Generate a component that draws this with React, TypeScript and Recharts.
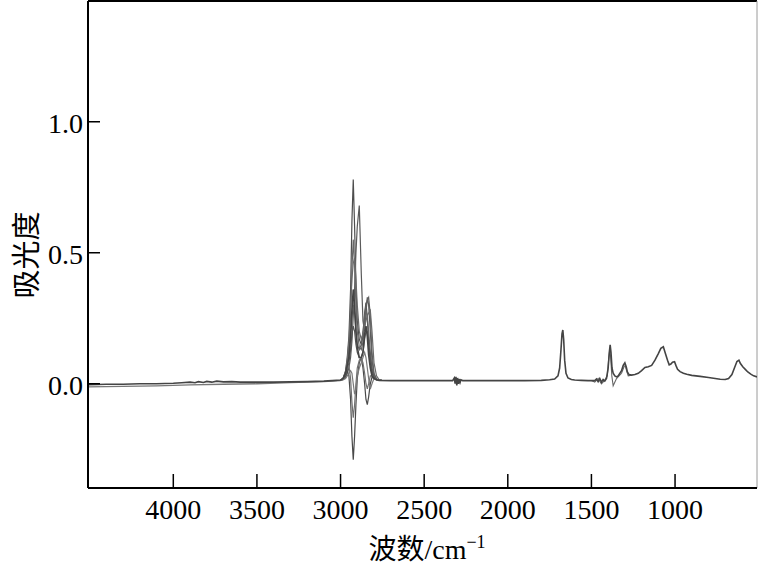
import React from 'react';
import { LineChart, Line, XAxis, YAxis, ReferenceLine } from 'recharts';

// full spectrum (wavenumber, absorbance)
const specWn = [
  4510, 4450, 4400, 4300, 4200, 4100, 4000, 3950, 3900, 3870, 3850, 3820, 3800, 3770, 3740, 3700,
  3650, 3600, 3500, 3400, 3300, 3200, 3100, 3050, 3000,
  2985, 2970, 2960, 2950, 2940, 2932, 2924, 2916, 2908, 2900, 2888, 2876, 2866, 2856, 2848, 2840,
  2832, 2822, 2812, 2800, 2785, 2770,
  2700, 2600, 2500, 2400, 2330, 2320, 2315, 2310, 2305, 2300, 2295, 2290, 2285, 2280, 2270, 2200,
  2100, 2000, 1900, 1800, 1750, 1720, 1700, 1690, 1682, 1676, 1671, 1666, 1660, 1652, 1640, 1620,
  1600, 1560, 1520, 1480, 1470, 1460, 1450, 1440, 1430, 1420, 1410, 1400, 1393, 1388, 1383, 1377,
  1370, 1360, 1350, 1340, 1320, 1310, 1300, 1292, 1285, 1275, 1260, 1240, 1220, 1200, 1180, 1160,
  1140, 1120, 1100, 1085, 1070, 1060, 1045, 1035, 1025, 1015, 1003, 995, 985, 970, 950, 930, 900,
  850, 800, 760, 730, 700, 680, 660, 645, 630, 618, 610, 595, 580, 565, 545, 530, 510,
];
const specAbs = [
  -0.004, -0.003, -0.002, -0.002, 0.0, 0.0, 0.002, 0.004, 0.006, 0.004, 0.008, 0.005, 0.009, 0.006, 0.01, 0.007,
  0.008, 0.006, 0.006, 0.006, 0.007, 0.008, 0.01, 0.012, 0.014,
  0.02, 0.04, 0.07, 0.1, 0.18, 0.28, 0.36, 0.3, 0.2, 0.14, 0.1, 0.1, 0.12, 0.19, 0.22, 0.18,
  0.11, 0.06, 0.03, 0.02, 0.015, 0.013,
  0.012, 0.012, 0.012, 0.012, 0.012, 0.022, 0.0, 0.026, -0.006, 0.022, 0.0, 0.018, 0.005, 0.015, 0.012, 0.012,
  0.012, 0.012, 0.012, 0.013, 0.015, 0.018, 0.03, 0.06, 0.13, 0.19, 0.205, 0.17, 0.09, 0.04, 0.022, 0.016,
  0.014, 0.013, 0.012, 0.012, 0.018, 0.008, 0.02, 0.006, 0.016, 0.01, 0.02, 0.06, 0.12, 0.148, 0.12, 0.06,
  0.04, 0.03, 0.026, 0.03, 0.05, 0.07, 0.08, 0.065, 0.045, 0.035, 0.033, 0.035, 0.04, 0.05, 0.062, 0.065,
  0.07, 0.09, 0.115, 0.135, 0.141, 0.12, 0.09, 0.072, 0.075, 0.082, 0.084, 0.07, 0.055, 0.046, 0.04, 0.036, 0.032,
  0.028, 0.024, 0.02, 0.017, 0.016, 0.02, 0.035, 0.06, 0.085, 0.09, 0.078, 0.065, 0.055, 0.045, 0.036, 0.03, 0.026,
];

// second, slightly lower baseline trace on the high-wavenumber side
const lowWn = [4510, 4300, 4100, 3900, 3700, 3500, 3300, 3100, 3000];
const lowAbs = [-0.012, -0.01, -0.008, -0.004, -0.002, 0.0, 0.004, 0.008, 0.012];

// small overlaid traces in the fingerprint region
const fpWn = [1500, 1480, 1460, 1440, 1420, 1405, 1396, 1390, 1385, 1378, 1370, 1350, 1320, 1305, 1298, 1290, 1280, 1260];
const fpAbs = [0.012, 0.006, 0.02, 0.0, 0.014, 0.03, 0.1, 0.13, 0.1, 0.03, -0.008, 0.02, 0.04, 0.065, 0.07, 0.05, 0.03, 0.033];

// C-H stretch region, other overlaid spectra
const chWn = [3000, 2985, 2970, 2960, 2950, 2940, 2932, 2924, 2916, 2908, 2900, 2888, 2876, 2866, 2856, 2848, 2840, 2832, 2822, 2812, 2800, 2785, 2770, 2755];
const chA = [0.014, 0.02, 0.05, 0.1, 0.18, 0.36, 0.62, 0.78, 0.6, 0.38, 0.24, 0.17, 0.15, 0.18, 0.27, 0.31, 0.25, 0.15, 0.08, 0.04, 0.024, 0.016, 0.014, 0.013];
const chB = [0.014, 0.016, 0.025, 0.04, 0.06, 0.1, 0.16, 0.26, 0.36, 0.5, 0.6, 0.68, 0.42, 0.24, 0.2, 0.27, 0.33, 0.3, 0.2, 0.09, 0.035, 0.018, 0.014, 0.013];
const chC = [0.014, 0.018, 0.04, 0.07, 0.13, 0.26, 0.44, 0.55, 0.45, 0.3, 0.2, 0.14, 0.13, 0.16, 0.24, 0.28, 0.26, 0.2, 0.12, 0.06, 0.03, 0.017, 0.014, 0.013];
const chD = [0.014, 0.016, 0.03, 0.05, 0.08, 0.13, 0.19, 0.22, 0.2, 0.15, 0.12, 0.1, 0.1, 0.12, 0.17, 0.2, 0.2, 0.16, 0.1, 0.05, 0.025, 0.016, 0.014, 0.013];
const chE = [0.014, 0.016, 0.03, 0.05, 0.03, -0.06, -0.2, -0.29, -0.2, -0.08, 0.02, 0.08, 0.1, 0.06, 0.0, -0.06, -0.08, -0.05, 0.0, 0.025, 0.02, 0.015, 0.014, 0.013];
const chF = [0.014, 0.018, 0.035, 0.06, 0.07, 0.02, -0.07, -0.13, -0.08, 0.0, 0.06, 0.09, 0.1, 0.08, 0.04, 0.0, -0.02, 0.0, 0.03, 0.03, 0.02, 0.015, 0.014, 0.013];
const chG = [0.014, 0.02, 0.04, 0.08, 0.12, 0.18, 0.25, 0.3, 0.27, 0.2, 0.15, 0.13, 0.15, 0.2, 0.26, 0.3, 0.32, 0.33, 0.26, 0.12, 0.04, 0.018, 0.014, 0.013];
const chH = [0.014, 0.02, 0.045, 0.09, 0.16, 0.28, 0.4, 0.46, 0.48, 0.4, 0.3, 0.2, 0.17, 0.19, 0.22, 0.24, 0.26, 0.27, 0.28, 0.2, 0.08, 0.03, 0.016, 0.013];
const chI = [0.014, 0.015, 0.02, 0.03, 0.04, 0.05, 0.04, 0.0, -0.04, -0.02, 0.03, 0.06, 0.08, 0.1, 0.12, 0.1, 0.06, 0.02, -0.02, 0.0, 0.02, 0.016, 0.014, 0.013];

const xTicks = [4000, 3500, 3000, 2500, 2000, 1500, 1000];
const yTicks = [0, 0.5, 1.0];

const X_MIN = 510;
const X_MAX = 4510;
const Y_MIN = -0.398;
const Y_MAX = 1.461;

const pts = (wn: number[], ab: number[]) => wn.map((w, i) => ({ wn: w, a: ab[i] }));

const serif = '"Liberation Serif", "Times New Roman", serif';
const cjk = '"Noto Sans CJK SC", sans-serif';

const XTick = (props: any) => {
  const { x, y, payload } = props;
  return (
    <g>
      <line x1={x} y1={y} x2={x} y2={y - 14} stroke="#000" strokeWidth={1.5} />
      <text x={x} y={y + 31} textAnchor="middle" fontSize={28} fontFamily={serif} fill="#000">
        {payload.value}
      </text>
    </g>
  );
};

const YTick = (props: any) => {
  const { x, y, payload } = props;
  return (
    <g>
      <line x1={x} y1={y} x2={x + 12} y2={y} stroke="#000" strokeWidth={1.5} />
      <text x={x - 5} y={y + 11} textAnchor="end" fontSize={28} fontFamily={serif} fill="#000">
        {Number(payload.value).toFixed(1)}
      </text>
    </g>
  );
};

const chSeries = [
  { key: 'A', d: chA, c: '#4d4d4d' },
  { key: 'B', d: chB, c: '#5a5a5a' },
  { key: 'C', d: chC, c: '#666' },
  { key: 'D', d: chD, c: '#555' },
  { key: 'E', d: chE, c: '#4a4a4a' },
  { key: 'F', d: chF, c: '#707070' },
  { key: 'G', d: chG, c: '#606060' },
  { key: 'H', d: chH, c: '#6a6a6a' },
  { key: 'I', d: chI, c: '#7a7a7a' },
];

export default function App() {
  return (
    <div style={{ position: 'absolute', left: 0, top: 0, width: 760, height: 565, background: '#fff' }}>
      <LineChart width={760} height={565} margin={{ top: 1, right: 3, bottom: 0, left: 0 }}>
        <XAxis
          type="number"
          dataKey="wn"
          domain={[X_MIN, X_MAX]}
          reversed
          allowDataOverflow
          ticks={xTicks}
          tick={<XTick />}
          tickLine={false}
          tickSize={0}
          tickMargin={0}
          height={77}
          axisLine={{ stroke: '#000', strokeWidth: 2 }}
        />
        <YAxis
          type="number"
          domain={[Y_MIN, Y_MAX]}
          allowDataOverflow
          ticks={yTicks}
          tick={<YTick />}
          tickLine={false}
          tickSize={0}
          tickMargin={0}
          width={88}
          axisLine={{ stroke: '#000', strokeWidth: 2 }}
        />
        <ReferenceLine y={Y_MAX} stroke="#000" strokeWidth={2} />
        <ReferenceLine x={X_MIN} stroke="#9a9a9a" strokeWidth={1} />
        <Line
          data={pts(lowWn, lowAbs)}
          dataKey="a"
          stroke="#777"
          strokeWidth={1.3}
          dot={false}
          isAnimationActive={false}
        />
        <Line
          data={pts(fpWn, fpAbs)}
          dataKey="a"
          stroke="#666"
          strokeWidth={1.1}
          dot={false}
          isAnimationActive={false}
        />
        {chSeries.map((s) => (
          <Line
            key={s.key}
            data={pts(chWn, s.d)}
            dataKey="a"
            stroke={s.c}
            strokeWidth={1.2}
            dot={false}
            isAnimationActive={false}
          />
        ))}
        <Line
          data={pts(specWn, specAbs)}
          dataKey="a"
          stroke="#444"
          strokeWidth={1.6}
          dot={false}
          isAnimationActive={false}
        />
      </LineChart>
      <div
        style={{
          position: 'absolute',
          left: 24,
          top: 255,
          transform: 'translate(-50%, -50%) rotate(-90deg)',
          fontFamily: cjk,
          fontSize: 29,
          whiteSpace: 'nowrap',
          color: '#000',
        }}
      >
        吸光度
      </div>
      <div
        style={{
          position: 'absolute',
          left: 427,
          top: 548,
          transform: 'translate(-50%, -50%)',
          fontSize: 28,
          whiteSpace: 'nowrap',
          color: '#000',
          lineHeight: 1,
        }}
      >
        <span style={{ fontFamily: cjk }}>波数</span>
        <span style={{ fontFamily: serif }}>
          /cm<sup style={{ fontSize: 18 }}>−1</sup>
        </span>
      </div>
    </div>
  );
}
